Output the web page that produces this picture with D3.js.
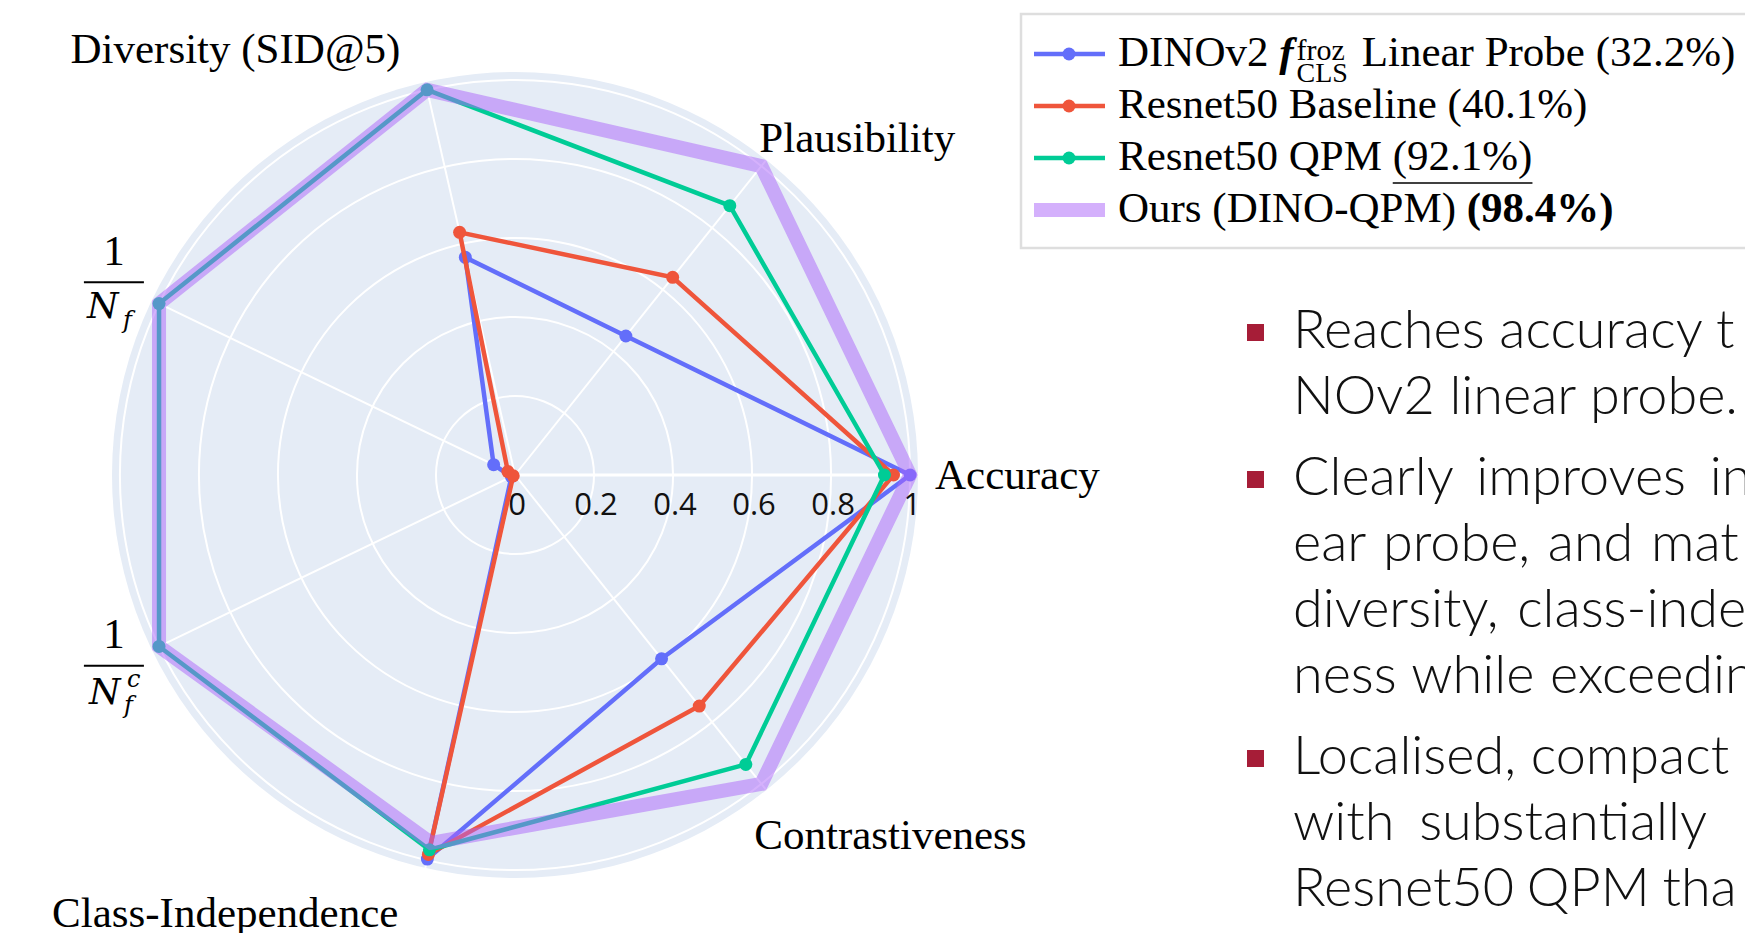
<!DOCTYPE html>
<html lang="en">
<head>
<meta charset="UTF-8">
<title>Radar chart</title>
<script src="https://d3js.org/d3.v7.min.js"></script>
<style>
  body { margin: 0; background: #fff; }
  svg { display: block; }
  .serif { font-family: "Liberation Serif", "Times New Roman", serif; fill: #000; }
  .math { font-family: "DejaVu Serif", serif; font-style: italic; fill: #000; }
  .tick { font-family: "Open Sans", sans-serif; font-size: 31px; fill: #111; }
  .bullet-text { font-family: Lato, sans-serif; font-weight: 300; font-size: 54px; fill: #111; white-space: pre; }
</style>
</head>
<body>
<svg width="1745" height="933"></svg>
<script>
// axes of the radar (counter-clockwise from Accuracy)
const categories = ["Accuracy", "Plausibility", "Diversity (SID@5)", "1/N_f", "1/N_f^c", "Class-Independence", "Contrastiveness"];

// values
const dinoLinear = [1.0, 0.45, 0.565, 0.06, 0.01, 0.997, 0.595];
const resnetBaseline = [0.958, 0.64, 0.63, 0.02, 0.005, 0.985, 0.748];
const resnetQpm = [0.935, 0.872, 1.0, 1.0, 1.0, 0.973, 0.937];
const oursDinoQpm = [1.0, 1.0, 1.0, 1.0, 1.0, 0.955, 1.0];

const radialTicks = [0, 0.2, 0.4, 0.6, 0.8, 1];
const radialTickLabels = ["0", "0.2", "0.4", "0.6", "0.8", "1"];

const legendScores = ["32.2%", "40.1%", "92.1%", "98.4%"];

const bullets = [
  ["Reaches accuracy t", "NOv2 linear probe."],
  ["Clearly improves in", "ear probe, and mat", "diversity, class-inde", "ness while exceedin"],
  ["Localised, compact", "with substantially", "Resnet50 QPM tha"]
];
const bulletWordSpacing = [[0, 0], [9, 3, 4, 1], [0, 10, -2]];

const svg = d3.select("svg");
svg.append("rect").attr("width", 1745).attr("height", 933).attr("fill", "#fff");

const cx = 515, cy = 475;
const r = d3.scaleLinear().domain([0, 1.02]).range([0, 403]);
const theta = d3.scaleLinear().domain([0, categories.length]).range([0, 2 * Math.PI]);
// d3 radial angle is clockwise from 12 o'clock; plotly's is counter-clockwise from 3 o'clock
const radAngle = i => Math.PI / 2 - theta(i);

const g = svg.append("g").attr("transform", `translate(${cx},${cy})`);

// polar background and grid
g.append("circle").attr("r", r(1.02)).attr("fill", "#e5ecf6");
g.selectAll("circle.grid").data(radialTicks.filter(t => t > 0)).join("circle")
  .attr("class", "grid").attr("r", d => r(d))
  .attr("fill", "none").attr("stroke", "#fff").attr("stroke-width", 2);
g.selectAll("line.spoke").data(categories).join("line")
  .attr("class", "spoke")
  .attr("x2", (d, i) => d3.pointRadial(radAngle(i), r(1.02))[0])
  .attr("y2", (d, i) => d3.pointRadial(radAngle(i), r(1.02))[1])
  .attr("stroke", "#fff").attr("stroke-width", 2);
g.append("line").attr("x2", r(1.02)).attr("stroke", "#fff").attr("stroke-width", 3);

g.selectAll("text.tick").data(radialTicks).join("text")
  .attr("class", "tick").attr("text-anchor", "middle")
  .attr("x", d => r(d) + 2).attr("y", 40)
  .text((d, i) => radialTickLabels[i]);

// traces
const series = [
  { values: dinoLinear, color: "#636efa" },
  { values: resnetBaseline, color: "#EF553B" },
  { values: resnetQpm, color: "#00cc96" }
];
const radar = d3.lineRadial()
  .angle((d, i) => radAngle(i))
  .radius(d => r(d))
  .curve(d3.curveLinearClosed);

series.forEach(s => {
  const sg = g.append("g");
  sg.append("path").attr("d", radar(s.values))
    .attr("fill", "none").attr("stroke", s.color).attr("stroke-width", 4.5);
  sg.selectAll("circle").data(s.values).join("circle")
    .attr("cx", (d, i) => d3.pointRadial(radAngle(i), r(d))[0])
    .attr("cy", (d, i) => d3.pointRadial(radAngle(i), r(d))[1])
    .attr("r", 6.5).attr("fill", s.color);
});
g.append("path").attr("d", radar(oursDinoQpm))
  .attr("fill", "none").attr("stroke", "#ab63fa").attr("stroke-width", 14)
  .attr("opacity", 0.5);

// category labels: offsets from the outer rim point of each axis
const labelPlace = [
  { anchor: "start", dx: 17, dy: 14 },
  { anchor: "start", dx: -7, dy: -8 },
  { anchor: "end", dx: -25, dy: -19 },
  { frac: true, dx: -8, dy: -18 },
  { frac: true, dx: -8, dy: 16 },
  { anchor: "end", dx: -27, dy: 59 },
  { anchor: "start", dx: -12, dy: 59 }
];
categories.forEach((c, i) => {
  const [px, py] = d3.pointRadial(radAngle(i), r(1.02));
  const p = labelPlace[i];
  const x = px + p.dx, y = py + p.dy;
  if (!p.frac) {
    g.append("text").attr("class", "serif").attr("font-size", 43)
      .attr("text-anchor", p.anchor).attr("x", x).attr("y", y).text(c);
    return;
  }
  // 1 / N_f  (and 1 / N_f^c)
  const fg = g.append("g").attr("transform", `translate(${x},${y})`);
  const sup = c.endsWith("^c");
  fg.append("line").attr("x1", -60).attr("x2", 0).attr("stroke", "#000").attr("stroke-width", 2);
  fg.append("text").attr("class", "serif").attr("font-size", 43).attr("text-anchor", "middle")
    .attr("x", -30).attr("y", sup ? -18 : -17).text("1");
  fg.append("text").attr("class", "math").attr("font-size", 36)
    .attr("x", sup ? -55 : -57).attr("y", sup ? 38 : 36).text("N");
  fg.append("text").attr("class", "math").attr("font-size", 24)
    .attr("x", sup ? -20 : -21).attr("y", sup ? 47 : 46).text("f");
  if (sup) {
    fg.append("text").attr("class", "math").attr("font-size", 24)
      .attr("x", -17).attr("y", 21).text("c");
  }
});

// legend
const legend = svg.append("g");
legend.append("rect").attr("x", 1021).attr("y", 14).attr("width", 760).attr("height", 234)
  .attr("fill", "#fff").attr("stroke", "#dedede").attr("stroke-width", 2.5);
const rowY = [54, 106, 158, 210];
const legendColors = ["#636efa", "#EF553B", "#00cc96"];
legendColors.forEach((col, i) => {
  legend.append("line").attr("x1", 1034).attr("x2", 1105).attr("y1", rowY[i]).attr("y2", rowY[i])
    .attr("stroke", col).attr("stroke-width", 4.5);
  legend.append("circle").attr("cx", 1069).attr("cy", rowY[i]).attr("r", 6.5).attr("fill", col);
});
legend.append("line").attr("x1", 1034).attr("x2", 1105).attr("y1", rowY[3]).attr("y2", rowY[3])
  .attr("stroke", "#ab63fa").attr("stroke-width", 14).attr("opacity", 0.5);

function piece(x, y, str, size, opts = {}) {
  const t = legend.append("text").attr("class", "serif").attr("font-size", size)
    .attr("x", x).attr("y", y).style("white-space", "pre").text(str);
  if (opts.italic) t.attr("font-style", "italic");
  if (opts.bold) t.attr("font-weight", "bold");
  return { node: t, end: x + t.node().getComputedTextLength() };
}
const tx = 1118;
// row 1
let p = piece(tx, rowY[0] + 12, "DINOv2 ", 43);
p = piece(p.end, rowY[0] + 12, "f", 43, { italic: true, bold: true });
const supEnd = piece(p.end + 3, rowY[0] + 6, "froz", 30).end;
const subEnd = piece(p.end + 3, rowY[0] + 28, "CLS", 28).end;
piece(Math.max(supEnd, subEnd) + 3, rowY[0] + 12, ` Linear Probe (${legendScores[0]})`, 43);
// row 2
piece(tx, rowY[1] + 12, `Resnet50 Baseline (${legendScores[1]})`, 43);
// row 3, second best underlined
p = piece(tx, rowY[2] + 12, "Resnet50 QPM ", 43);
const q = piece(p.end, rowY[2] + 12, `(${legendScores[2]})`, 43);
legend.append("line").attr("x1", p.end).attr("x2", q.end).attr("y1", rowY[2] + 25).attr("y2", rowY[2] + 25)
  .attr("stroke", "#000").attr("stroke-width", 1.6);
// row 4, best in bold
p = piece(tx, rowY[3] + 12, "Ours (DINO-QPM) ", 43);
piece(p.end, rowY[3] + 12, `(${legendScores[3]})`, 43, { bold: true });

// bullet list on the slide
const list = svg.append("g");
let base = 348;
bullets.forEach((lines, bi) => {
  list.append("rect").attr("x", 1247).attr("y", base - 24).attr("width", 17).attr("height", 17)
    .attr("fill", "#a61d37");
  lines.forEach((ln, li) => {
    list.append("text").attr("class", "bullet-text").attr("x", 1293).attr("y", base)
      .attr("word-spacing", bulletWordSpacing[bi][li]).text(ln);
    base += 66;
  });
  base += 15;
});
</script>
</body>
</html>
